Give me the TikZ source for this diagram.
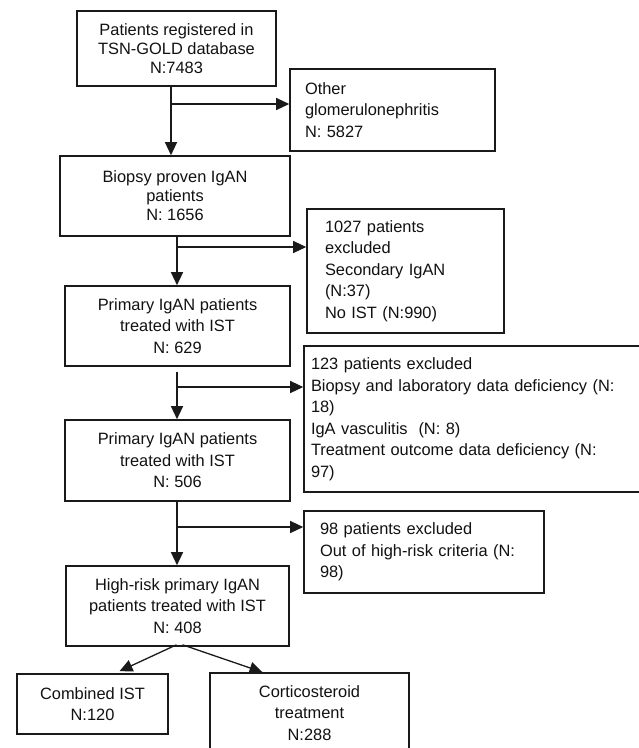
\documentclass[tikz,border=0pt]{standalone}
\usepackage{fontspec}
\setmainfont{Liberation Sans}
\usetikzlibrary{arrows.meta,calc}
\definecolor{frame}{HTML}{1A1A1A}
\definecolor{ink}{HTML}{111111}
\tikzset{
  stage/.style={draw=frame, line width=1.6pt, align=center, inner sep=0pt, text=ink,
                font=\fontsize{16.4pt}{21.5pt}\selectfont},
  tightstage/.style={stage, font=\fontsize{16.4pt}{19pt}\selectfont},
  excl/.style={draw=frame, line width=1.6pt, align=left, inner ysep=0pt, text=ink,
               font=\fontsize{16.4pt}{21.5pt}\selectfont},
  flow/.style={-{Triangle[length=13pt,width=12pt]}, line width=1.3pt, draw=frame}
}
\begin{document}
\begin{tikzpicture}[x=1pt,y=-1pt]
  \useasboundingbox (0,0) rectangle (639,748);

  % main column
  \node[tightstage, minimum width=199pt, minimum height=75pt] (reg) at (176.5,48.5)
    {Patients registered in\\TSN-GOLD database\\N:7483};
  \node[tightstage, minimum width=230pt, minimum height=80pt] (biopsy) at (175,196)
    {Biopsy proven IgAN\\patients\\N: 1656};
  \node[stage, minimum width=225pt, minimum height=80pt] (prim1) at (177.5,326)
    {Primary IgAN patients\\treated with IST\\N: 629};
  \node[stage, minimum width=225pt, minimum height=81pt] (prim2) at (177.5,460.5)
    {Primary IgAN patients\\treated with IST\\N: 506};
  \node[stage, minimum width=223pt, minimum height=80pt] (hrisk) at (177.5,606)
    {High-risk primary IgAN\\patients treated with IST\\N: 408};
  \node[stage, minimum width=151pt, minimum height=60pt] (comb) at (92.5,704)
    {Combined IST\\N:120};
  \node[stage, minimum width=199pt, minimum height=80pt] (cortico) at (309.5,713)
    {Corticosteroid\\treatment\\N:288};

  % exclusion boxes
  \node[excl, inner xsep=15pt, text width=175pt, minimum height=82pt] (other) at (392.5,110)
    {Other\\glomerulonephritis\\N: 5827};
  \node[excl, inner xsep=18pt, text width=161pt, minimum height=124pt] (excl1) at (405.5,271)
    {1027 patients\\excluded\\Secondary IgAN\\(N:37)\\No IST (N:990)};
  \node[excl, inner xsep=7pt, text width=326pt, minimum height=146pt] (excl2) at (474,419)
    {123 patients excluded\\Biopsy and laboratory data deficiency (N:\\18)\\IgA vasculitis~ (N: 8)\\Treatment outcome data deficiency (N:\\97)};
  \node[excl, inner xsep=16pt, text width=208pt, minimum height=82pt] (excl3) at (424,552)
    {98 patients excluded\\Out of high-risk criteria (N:\\98)};

  % junctions
  \coordinate (j1) at (171,104);
  \coordinate (j2) at (177,247);
  \coordinate (j3) at (177,387);
  \coordinate (j4) at (177,527);

  \draw[flow] (reg.south -| j1) -- (j1 |- biopsy.north);
  \draw[flow] (j1) -- (j1 -| other.west);
  \draw[flow] (biopsy.south -| j2) -- (j2 |- prim1.north);
  \draw[flow] (j2) -- (j2 -| excl1.west);
  \draw[flow] ([yshift=-5pt]prim1.south -| j3) -- (j3 |- prim2.north);
  \draw[flow] (j3) -- (j3 -| excl2.west);
  \draw[flow] (prim2.south -| j4) -- (j4 |- hrisk.north);
  \draw[flow] (j4) -- (j4 -| excl3.west);

  % split to treatment groups
  \draw[flow] ([xshift=-1pt,yshift=2pt]hrisk.south) -- ([xshift=27pt,yshift=2pt]comb.north);
  \draw[flow] ([xshift=5pt,yshift=2pt]hrisk.south) -- ([xshift=-47pt]cortico.north);
\end{tikzpicture}
\end{document}
